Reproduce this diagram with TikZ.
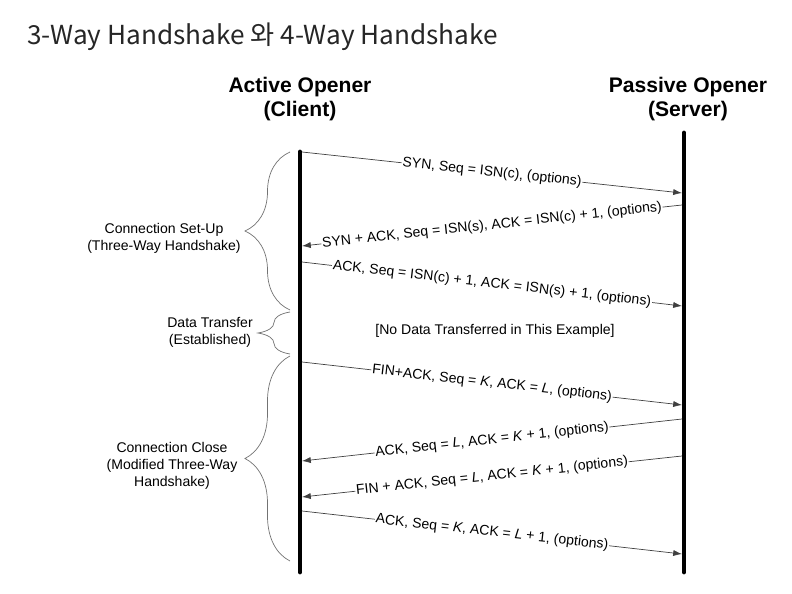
\documentclass[tikz,border=0pt]{standalone}
\usepackage{fontspec}
\setmainfont{Liberation Sans}
\newfontfamily\krfont{Noto Sans CJK KR}
\usetikzlibrary{positioning,calc,arrows.meta,decorations.pathreplacing}

\begin{document}
\begin{tikzpicture}[x=0.02cm,y=-0.02cm,
	msg/.style={draw=black!75, thin, -{Latex[length=5pt,width=3.5pt]}},
	lbl/.style={midway, sloped, fill=white, inner sep=0.5pt, font=\fontsize{8}{9.7}\selectfont},
	lifeline/.style={line width=2.8pt, line cap=round},
	head/.style={align=center, font=\bfseries\fontsize{12}{13.7}\selectfont},
	phase/.style={draw=black!55, thin, decorate, decoration={brace, amplitude=#1}},
	phasetext/.style={align=center, font=\fontsize{8}{9.7}\selectfont}]
				\useasboundingbox (0,0) rectangle (792,594);
				\node[anchor=base west, inner sep=0, text=black!85, font=\krfont\fontsize{14.9}{17}\selectfont] (title) at (27,45) {3-Way Handshake 와 4-Way Handshake};
				% the two hosts
				\node[head] (client) at (300,99) {Active Opener\\(Client)};
				\node[head] (server) at (688,99) {Passive Opener\\(Server)};
				\coordinate (ctop) at (300,152);
				\coordinate (cbot) at (300,572);
				\coordinate (stop) at (684,133);
				\coordinate (sbot) at (684,572);
				\draw[lifeline] (ctop) -- (cbot);
				\draw[lifeline] (stop) -- (sbot);
				% end points of the segments
				\coordinate (c1) at (302,152);
				\coordinate (s1) at (682,193);
				\coordinate (s2) at (682,205);
				\coordinate (c2) at (302,246);
				\coordinate (c3) at (302,262);
				\coordinate (s3) at (682,306);
				\coordinate (c4) at (302,362);
				\coordinate (s4) at (682,405);
				\coordinate (s5) at (682,419);
				\coordinate (c5) at (302,461);
				\coordinate (s6) at (682,456);
				\coordinate (c6) at (302,497);
				\coordinate (c7) at (302,511);
				\coordinate (s7) at (682,554);
				% connection set-up
				\draw[msg] (c1) -- node[lbl] {SYN, Seq = ISN(c), (options)} (s1);
				\draw[msg] (s2) -- node[lbl] {SYN + ACK, Seq = ISN(s), ACK = ISN(c) + 1, (options)} (c2);
				\draw[msg] (c3) -- node[lbl] {ACK, Seq = ISN(c) + 1, ACK = ISN(s) + 1, (options)} (s3);
				\node[phasetext] (nodata) at (495,331) {[No Data Transferred in This Example]};
				% connection close
				\draw[msg] (c4) -- node[lbl] {FIN+ACK, Seq = \textit{K}, ACK = \textit{L}, (options)} (s4);
				\draw[msg] (s5) -- node[lbl] {ACK, Seq = \textit{L}, ACK = \textit{K} + 1, (options)} (c5);
				\draw[msg] (s6) -- node[lbl] {FIN + ACK, Seq = \textit{L}, ACK = \textit{K} + 1, (options)} (c6);
				\draw[msg] (c7) -- node[lbl] {ACK, Seq = \textit{K}, ACK = \textit{L} + 1, (options)} (s7);
				% phases
				\coordinate (b1) at (290,310);
				\coordinate (t1) at (290,152);
				\coordinate (b2) at (290,354);
				\coordinate (t2) at (290,312);
				\coordinate (b3) at (290,561);
				\coordinate (t3) at (290,356);
				\draw[phase=0.9cm] (b1) -- (t1);
				\draw[phase=0.64cm] (b2) -- (t2);
				\draw[phase=0.9cm] (b3) -- (t3);
				\node[phasetext] (setup) at (164,238) {Connection Set-Up\\(Three-Way Handshake)};
				\node[phasetext] (transfer) at (210,332) {Data Transfer\\(Established)};
				\node[phasetext] (close) at (172,466) {Connection Close\\(Modified Three-Way\\Handshake)};
\end{tikzpicture}
\end{document}
